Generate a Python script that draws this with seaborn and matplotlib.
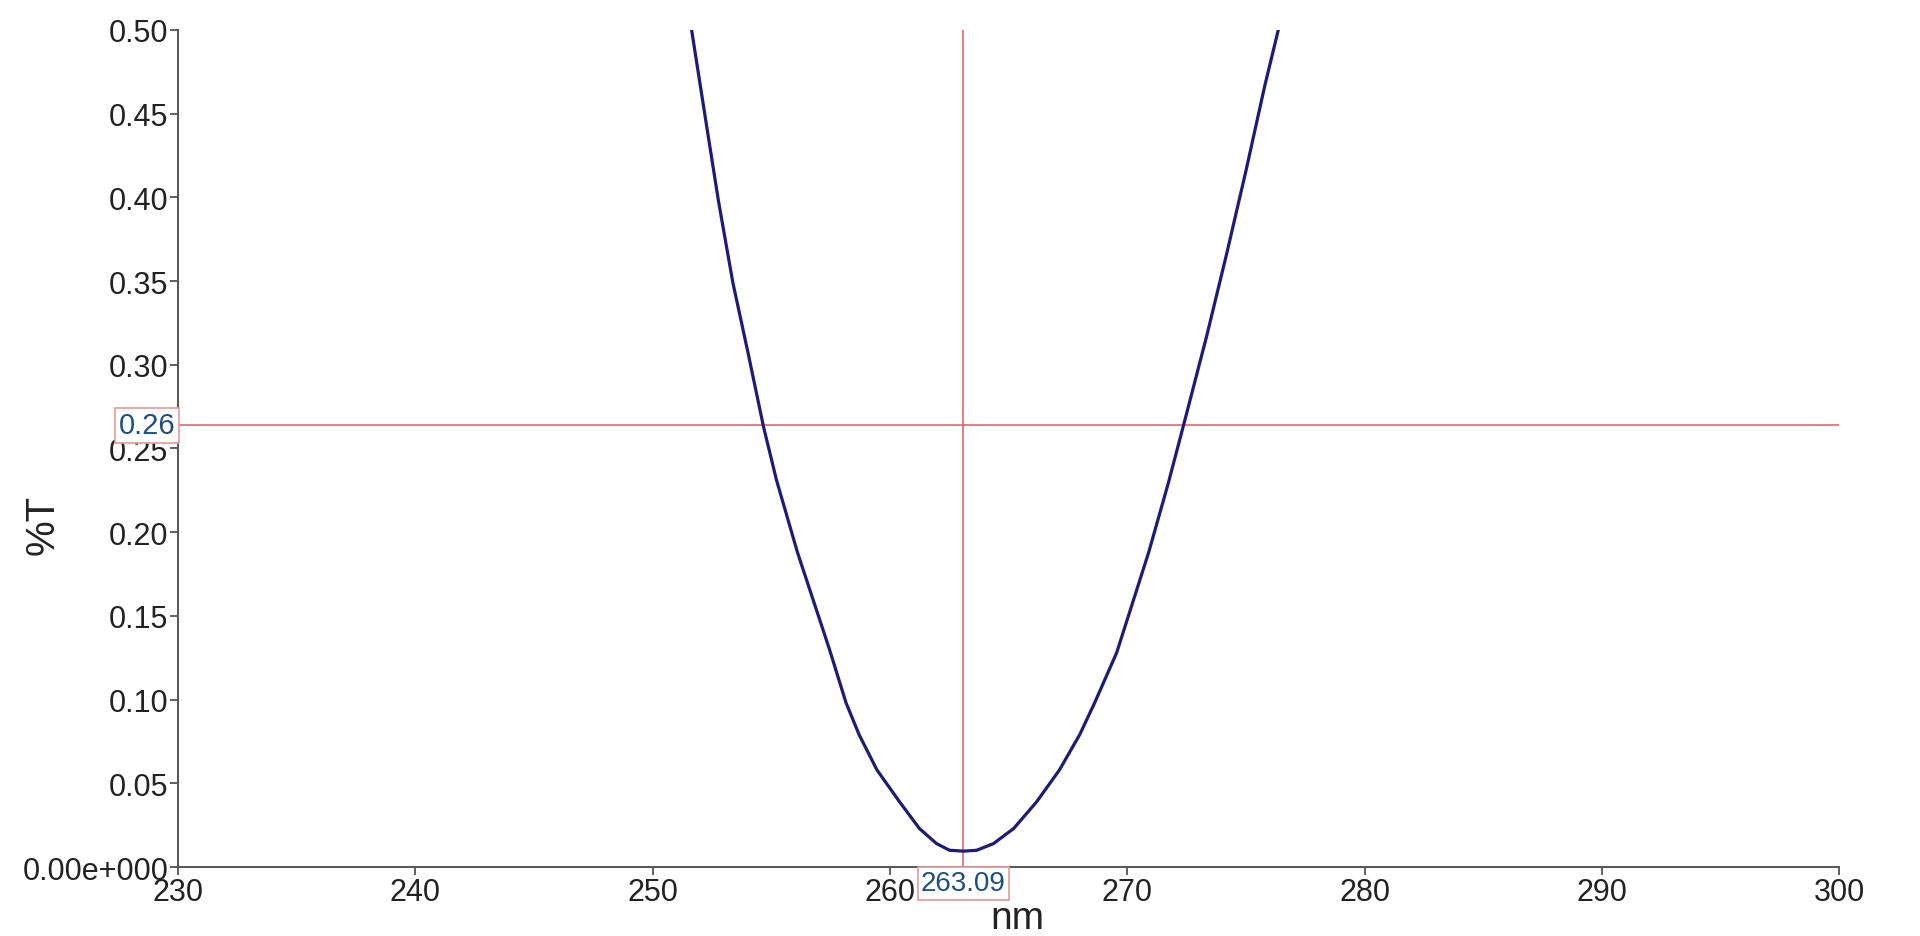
import numpy as np
import pandas as pd
import matplotlib
matplotlib.use("Agg")
import matplotlib.pyplot as plt
import seaborn as sns

# valori (nm, %T)
wavelength = [251.64, 252.27, 252.77, 253.38, 254.02, 254.67, 255.22, 256.10,
              257.45, 258.15, 258.70, 259.45, 260.40, 261.24, 261.96, 262.51,
              263.09, 263.65, 264.36, 265.21, 266.18, 267.14, 267.99, 268.62,
              269.55, 270.90, 271.72, 272.37, 273.34, 274.18, 275.00, 275.78,
              276.36]
transmittance = [0.500, 0.443, 0.398, 0.349, 0.307, 0.263, 0.231, 0.188,
                 0.130, 0.098, 0.079, 0.058, 0.039, 0.023, 0.014, 0.010,
                 0.0095, 0.010, 0.014, 0.023, 0.039, 0.058, 0.079, 0.098,
                 0.128, 0.188, 0.229, 0.264, 0.317, 0.366, 0.416, 0.466,
                 0.500]

cursor_x = 263.09
cursor_y = 0.264
cursor_x_label = "263.09"
cursor_y_label = "0.26"

x_ticks = [230, 240, 250, 260, 270, 280, 290, 300]
y_ticks = [0.00, 0.05, 0.10, 0.15, 0.20, 0.25, 0.30, 0.35, 0.40, 0.45, 0.50]
y_tick_labels = ["0.00e+000", "0.05", "0.10", "0.15", "0.20", "0.25",
                 "0.30", "0.35", "0.40", "0.45", "0.50"]

df = pd.DataFrame({"nm": wavelength, "%T": transmittance})

sns.set_theme(style="ticks")
plt.rcParams['font.family'] = ['Liberation Sans', 'DejaVu Sans']

fig = plt.figure(figsize=(19.2, 9.37), dpi=100)
ax = fig.add_axes([0.0927, 0.0736, 0.8653, 0.8934])

# curva
sns.lineplot(data=df, x="nm", y="%T", sort=False, color="#1c1c78",
             linewidth=2.3, ax=ax)

# cursori rossi
ax.axvline(cursor_x, color="#e05a5a", linewidth=1.1, zorder=1)
ax.axhline(cursor_y, color="#e05a5a", linewidth=1.1, zorder=1)

ax.set_xlim(230, 300)
ax.set_ylim(0, 0.5)
ax.set_xticks(x_ticks)
ax.set_yticks(y_ticks)
ax.set_yticklabels(y_tick_labels)

ax.tick_params(axis="both", labelsize=22, length=6, width=1.2,
               color="#444444", labelcolor="#222222", pad=1)
for s in ["top", "right"]:
    ax.spines[s].set_visible(False)
for s in ["left", "bottom"]:
    ax.spines[s].set_color("#555555")
    ax.spines[s].set_linewidth(1.4)

ax.set_xlabel("nm", fontsize=28, color="#222222")
ax.set_ylabel("%T", fontsize=29, color="#222222")
ax.xaxis.label.set_va("baseline")
ax.xaxis.set_label_coords(0.505, -0.073)
ax.yaxis.set_label_coords(-0.07, 0.41)

# etichette dei cursori
box = dict(boxstyle="square,pad=0.12", facecolor="white",
           edgecolor="#e89a9a", linewidth=1.2)
ax.text(cursor_x, -0.002, cursor_x_label, ha="center", va="top",
        fontsize=20, color="#1d4f86", bbox=box, clip_on=False, zorder=5)
ax.text(229.9, cursor_y, cursor_y_label, ha="right", va="center",
        fontsize=21, color="#1d4f86", bbox=box, clip_on=False, zorder=5)

fig.savefig("out.png", dpi=100, facecolor="white")
